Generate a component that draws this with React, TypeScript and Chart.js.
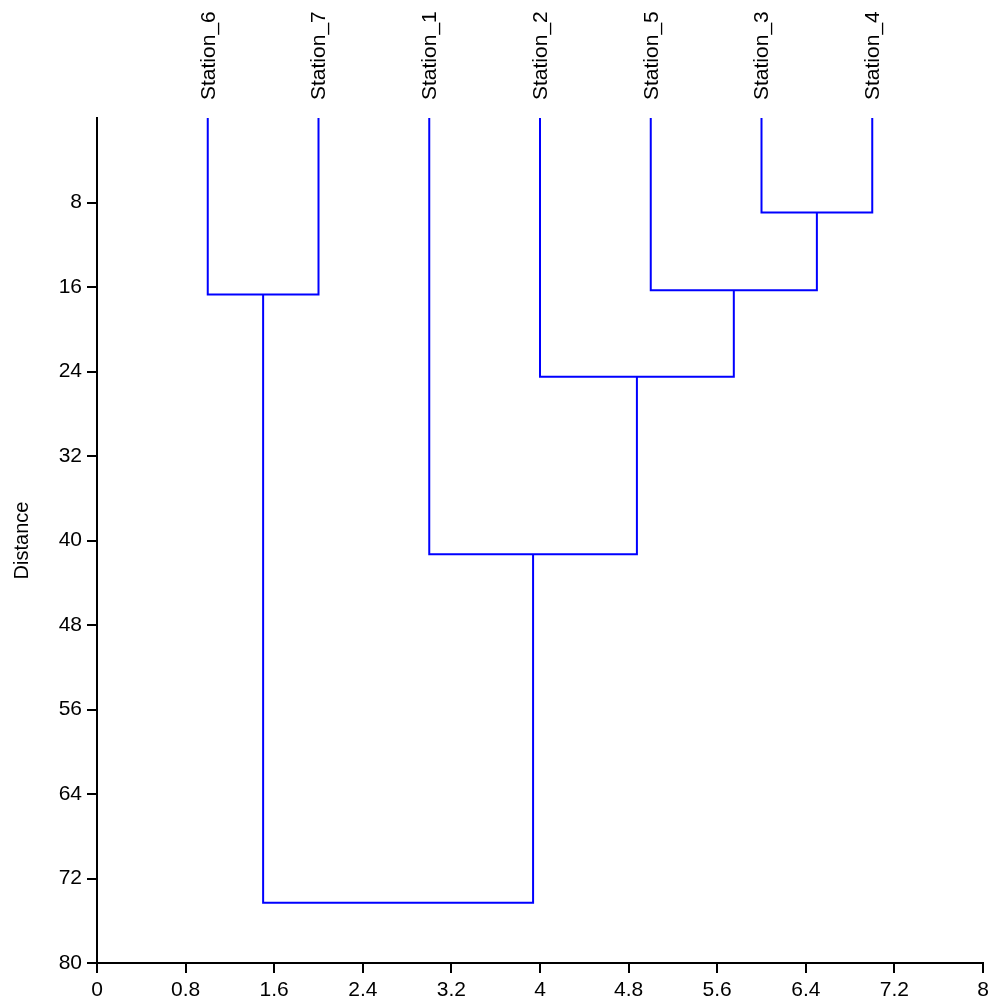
import React, { useEffect, useRef } from 'react';
import { Chart, registerables } from 'chart.js';

Chart.register(...registerables);

// Leaves (left to right) and their positions on the x axis
const leafNames = ['Station_6', 'Station_7', 'Station_1', 'Station_2', 'Station_5', 'Station_3', 'Station_4'];
const leafPositions = [1, 2, 3, 4, 5, 6, 7];

// Merge steps: C1..C6 are the clusters created by each step
const mergeLeft = ['Station_3', 'Station_5', 'Station_6', 'Station_2', 'Station_1', 'C3'];
const mergeRight = ['Station_4', 'C1', 'Station_7', 'C2', 'C4', 'C5'];
const mergeHeight = [8.95, 16.3, 16.7, 24.5, 41.3, 74.3];

const xTicks = [0, 0.8, 1.6, 2.4, 3.2, 4, 4.8, 5.6, 6.4, 7.2, 8];
const xTickLabels = ['0', '0.8', '1.6', '2.4', '3.2', '4', '4.8', '5.6', '6.4', '7.2', '8'];
const yTicks = [8, 16, 24, 32, 40, 48, 56, 64, 72, 80];
const yTickLabels = ['8', '16', '24', '32', '40', '48', '56', '64', '72', '80'];

const FONT = "'Liberation Sans', Arial, sans-serif";
const LINE_COLOR = '#0000ff';

function buildDatasets() {
  const nodes: Record<string, { x: number; h: number }> = {};
  leafNames.forEach((n, i) => {
    nodes[n] = { x: leafPositions[i], h: 0 };
  });
  const datasets: any[] = [];
  mergeHeight.forEach((h, i) => {
    const l = nodes[mergeLeft[i]];
    const r = nodes[mergeRight[i]];
    nodes['C' + (i + 1)] = { x: (l.x + r.x) / 2, h };
    datasets.push({
      data: [
        { x: l.x, y: l.h },
        { x: l.x, y: h },
        { x: r.x, y: h },
        { x: r.x, y: r.h },
      ],
      showLine: true,
      borderColor: LINE_COLOR,
      backgroundColor: LINE_COLOR,
      borderWidth: 2,
      pointRadius: 0,
      pointHoverRadius: 0,
      tension: 0,
      fill: false,
    });
  });
  return datasets;
}

const leafLabelPlugin = {
  id: 'leafLabels',
  afterDraw(chart: any) {
    const ctx = chart.ctx;
    const xs = chart.scales.x;
    const top = chart.chartArea.top;
    ctx.save();
    ctx.fillStyle = '#000';
    ctx.font = `21px ${FONT}`;
    ctx.textAlign = 'left';
    ctx.textBaseline = 'middle';
    leafNames.forEach((name, i) => {
      const px = xs.getPixelForValue(leafPositions[i]);
      ctx.save();
      ctx.translate(px + 1, top - 18);
      ctx.rotate(-Math.PI / 2);
      ctx.fillText(name, 0, 0);
      ctx.restore();
    });
    ctx.restore();
  },
};

export default function App() {
  const canvasRef = useRef<HTMLCanvasElement | null>(null);

  useEffect(() => {
    const canvas = canvasRef.current;
    if (!canvas) return;
    const chart = new Chart(canvas, {
      type: 'scatter',
      data: { datasets: buildDatasets() },
      options: {
        responsive: false,
        animation: false,
        devicePixelRatio: 1,
        layout: { padding: { top: 118, right: 7, left: 0, bottom: 0 } },
        plugins: {
          legend: { display: false },
          tooltip: { enabled: false },
        },
        events: [],
        scales: {
          x: {
            type: 'linear',
            position: 'bottom',
            min: 0,
            max: 8,
            afterBuildTicks: (axis: any) => {
              axis.ticks = xTicks.map((v) => ({ value: v }));
            },
            afterFit: (axis: any) => {
              axis.height = 42;
              axis.paddingLeft = 0;
              axis.paddingRight = 0;
            },
            ticks: {
              autoSkip: false,
              maxRotation: 0,
              minRotation: 0,
              padding: 5,
              color: '#000',
              font: { family: FONT, size: 21 },
              callback: (_v: any, i: number) => xTickLabels[i],
            },
            grid: {
              drawOnChartArea: false,
              drawTicks: true,
              tickLength: 10,
              color: '#000',
              lineWidth: 2,
            },
            border: { display: true, color: '#000', width: 2 },
          },
          y: {
            type: 'linear',
            reverse: true,
            min: 0,
            max: 80,
            afterBuildTicks: (axis: any) => {
              axis.ticks = yTicks.map((v) => ({ value: v }));
            },
            afterFit: (axis: any) => {
              axis.width = 97;
              axis.paddingTop = 0;
              axis.paddingBottom = 0;
            },
            title: {
              display: true,
              text: 'Distance',
              color: '#000',
              font: { family: FONT, size: 20 },
              padding: { top: 10, bottom: 0 },
            },
            ticks: {
              autoSkip: false,
              padding: 5,
              color: '#000',
              font: { family: FONT, size: 21 },
              callback: (_v: any, i: number) => yTickLabels[i],
            },
            grid: {
              drawOnChartArea: false,
              drawTicks: true,
              tickLength: 10,
              color: '#000',
              lineWidth: 2,
            },
            border: { display: true, color: '#000', width: 2 },
          },
        },
      },
      plugins: [leafLabelPlugin],
    });
    return () => chart.destroy();
  }, []);

  return (
    <div style={{ position: 'absolute', left: 0, top: 0, width: 990, height: 1005, background: '#fff' }}>
      <canvas ref={canvasRef} width={990} height={1005} style={{ display: 'block', width: 990, height: 1005 }} />
    </div>
  );
}
